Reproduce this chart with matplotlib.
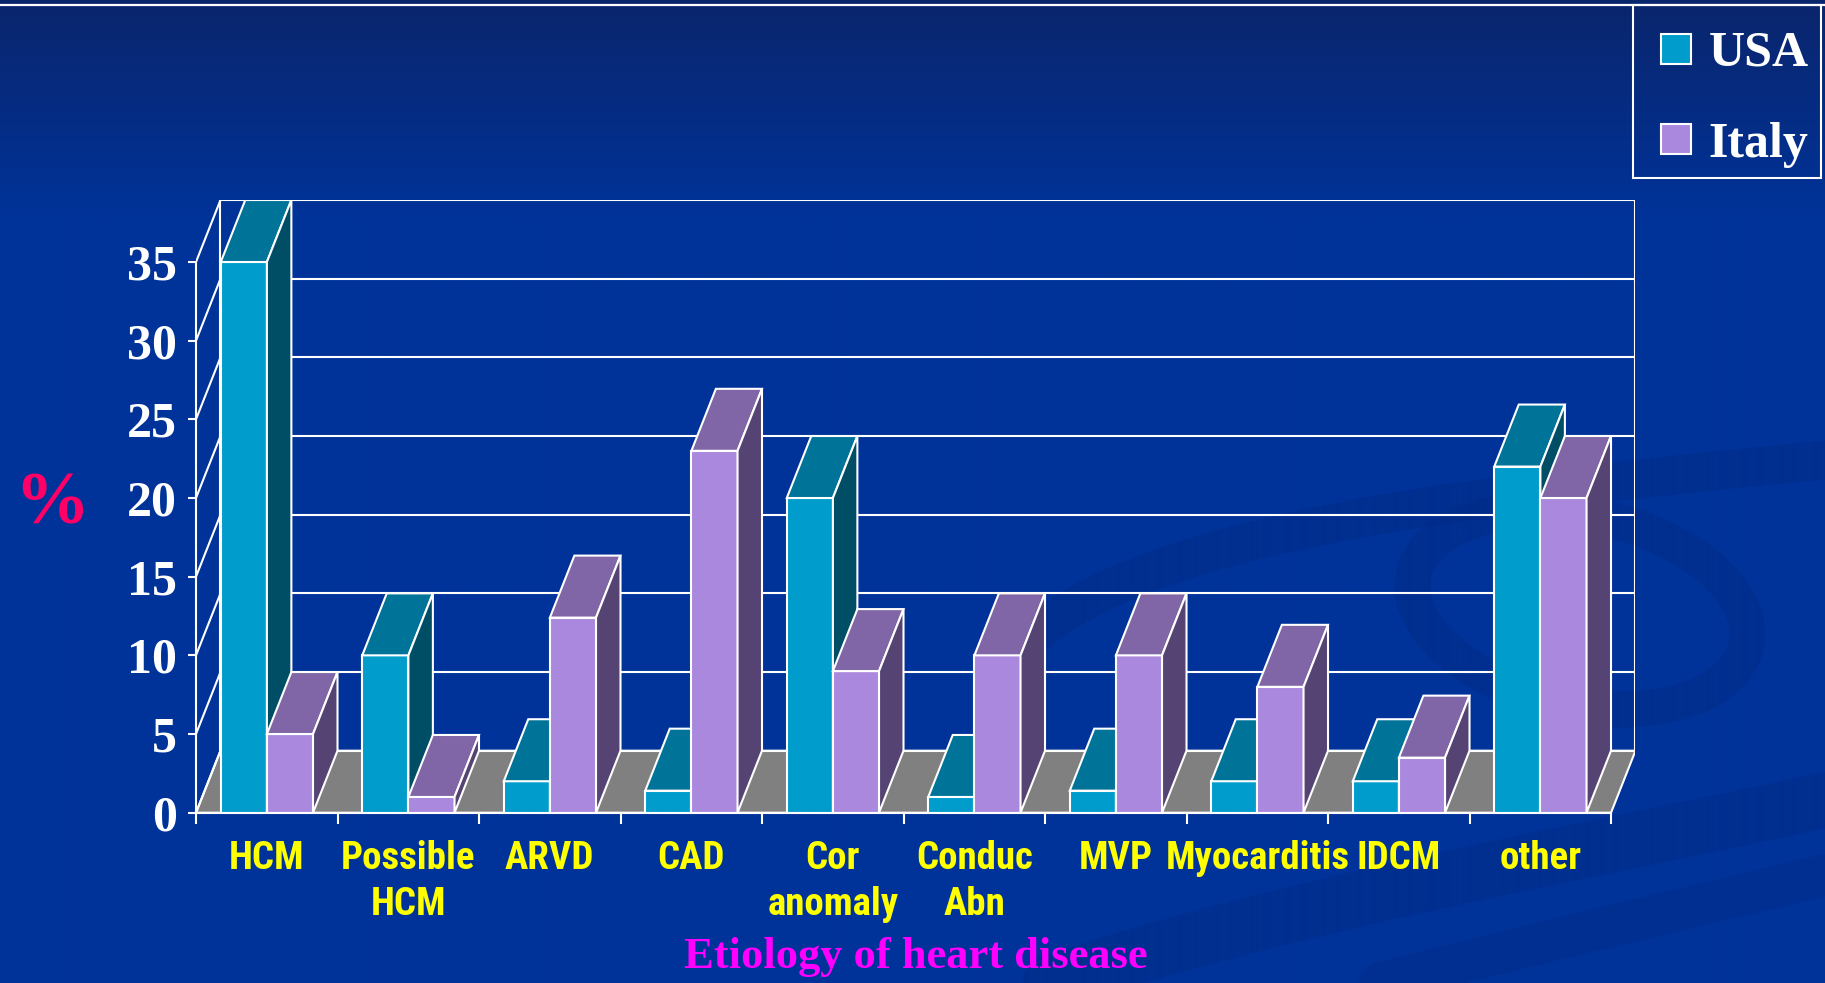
import numpy as np
import matplotlib
matplotlib.use("Agg")
import matplotlib.pyplot as plt
from matplotlib import font_manager
from matplotlib.lines import Line2D
from matplotlib.patches import Polygon, Ellipse, PathPatch, Rectangle
from matplotlib.path import Path

# --- data -----------------------------------------------------------------
categories = ["HCM", "Possible\nHCM", "ARVD", "CAD", "Cor\nanomaly", "Conduc\nAbn",
              "MVP", "Myocarditis", "IDCM", "other"]
usa = [35, 10, 2, 1.4, 20, 1, 1.4, 2, 2, 22]
italy = [5, 1, 12.4, 23, 9, 10, 10, 8, 3.5, 20]
series_names = ["USA", "Italy"]
yticks = [0, 5, 10, 15, 20, 25, 30, 35]

# --- style ----------------------------------------------------------------
W, H = 1825, 983
BG = "#003399"
USA_C = ("#009CCC", "#007399", "#004D66")      # front, top, side
ITA_C = ("#AA88DD", "#8066A6", "#554473")
FLOOR = "#808080"
EDGE = "white"
LW = 1.5

SERIF = ["Liberation Serif", "DejaVu Serif"]


def bold_narrow():
    """First narrow sans family that ships a real bold face."""
    wanted = ["Liberation Sans Narrow", "Archivo Narrow", "Roboto Condensed",
              "Barlow Semi Condensed", "Encode Sans Semi Condensed",
              "Fira Sans Condensed", "Asap Condensed"]
    have = {}
    for f in font_manager.fontManager.ttflist:
        w = f.weight if isinstance(f.weight, int) else 700 if "bold" in str(f.weight) else 400
        if w >= 600:
            have.setdefault(f.name, True)
    for name in wanted:
        if name in have:
            return [name, "Liberation Sans"], 28
    return ["Liberation Sans", "DejaVu Sans"], 23


NARROW, LABEL_SIZE = bold_narrow()

fig = plt.figure(figsize=(W / 100, H / 100), dpi=100)

# slide background: dark gradient at the top and faint swirls
bg = fig.add_axes([0, 0, 1, 1])
bg.set_xlim(0, W)
bg.set_ylim(H, 0)
bg.axis("off")
top = np.array([0x0a, 0x25, 0x6c]) / 255
mid = np.array([0x00, 0x33, 0x99]) / 255
t = np.clip(np.linspace(0, 1, H) / 0.22, 0, 1)[:, None]
grad = (top * (1 - t) + mid * t)[:, None, :] * np.ones((1, 4, 1))
bg.imshow(grad, extent=(0, W, H, 0), aspect="auto", interpolation="bilinear")

swirl = "#00267c"
def curve(pts, lw, alpha=0.3):
    codes = [Path.MOVETO] + [Path.CURVE4] * (len(pts) - 1)
    bg.add_patch(PathPatch(Path(pts, codes), fc="none", ec=swirl, lw=lw,
                           alpha=alpha, capstyle="round"))

curve([(1010, 660), (1100, 545), (1400, 500), (1825, 460)], 28)
curve([(1050, 983), (1300, 900), (1600, 850), (1825, 800)], 40)
curve([(1380, 983), (1550, 940), (1700, 905), (1825, 875)], 30, 0.25)
bg.add_patch(Ellipse((1580, 610), 340, 190, angle=12, fc="none", ec=swirl,
                     lw=26, alpha=0.28))
bg.plot([0, W], [5, 5], color="white", lw=1.6)
# legend frame
bg.add_patch(Rectangle((1633, 5), 188, 173, fc="none", ec=EDGE, lw=LW))

# --- pseudo-3D clustered columns -----------------------------------------
n = len(categories)
ymax = 35
ddx, ddy = 0.173, 3.94          # depth offset (category units, value units)
gap, bw = 0.175, 0.326          # gap before cluster, bar width

x0_px, x1_px, y0_px, y1_px = 196, 1635.5, 812.7, 200
ax = fig.add_axes([x0_px / W, 1 - y0_px / H, (x1_px - x0_px) / W, (y0_px - y1_px) / H])
ax.set_xlim(0, n + ddx)
ax.set_ylim(0, ymax + ddy)
ax.patch.set_visible(False)

# floor
ax.add_patch(Polygon([(0, 0), (n, 0), (n + ddx, ddy), (ddx, ddy)], closed=True,
                     fc=FLOOR, ec=EDGE, lw=LW, zorder=1))
# back wall frame and gridlines
ax.add_patch(Polygon([(ddx, ddy), (n + ddx, ddy), (n + ddx, ymax + ddy), (ddx, ymax + ddy)],
                     closed=True, fc="none", ec=EDGE, lw=LW, zorder=1))
for v in yticks[1:-1]:
    ax.plot([ddx, n + ddx], [v + ddy, v + ddy], color=EDGE, lw=LW, zorder=1)
# side wall lines
for v in yticks:
    ax.plot([0, ddx], [v, v + ddy], color=EDGE, lw=LW, zorder=1)


def bar3d(x, w, v, colors, z):
    front, topc, side = colors
    ax.add_patch(Polygon([(x, 0), (x + w, 0), (x + w, v), (x, v)], closed=True,
                         fc=front, ec=EDGE, lw=LW, zorder=z))
    ax.add_patch(Polygon([(x, v), (x + w, v), (x + w + ddx, v + ddy), (x + ddx, v + ddy)],
                         closed=True, fc=topc, ec=EDGE, lw=LW, zorder=z))
    ax.add_patch(Polygon([(x + w, 0), (x + w + ddx, ddy), (x + w + ddx, v + ddy), (x + w, v)],
                         closed=True, fc=side, ec=EDGE, lw=LW, zorder=z))


z = 2
for i in range(n):
    bar3d(i + gap, bw, usa[i], USA_C, z)
    bar3d(i + gap + bw, bw, italy[i], ITA_C, z + 0.01)
    z += 0.02

# axes, ticks and labels
for s in ("top", "right"):
    ax.spines[s].set_visible(False)
for s in ("left", "bottom"):
    ax.spines[s].set_color(EDGE)
    ax.spines[s].set_linewidth(LW)
    ax.spines[s].set_zorder(3)
ax.spines["left"].set_bounds(0, ymax)
ax.spines["bottom"].set_bounds(0, n)

ax.set_yticks(yticks)
ax.set_yticklabels([str(v) for v in yticks], family=SERIF, weight="bold",
                   fontsize=36, color="white")
ax.tick_params(axis="y", colors="white", length=6, width=LW, pad=8)

ax.set_xticks(np.arange(n) + 0.5)
ax.set_xticklabels(categories, family=NARROW, weight="bold", fontsize=LABEL_SIZE,
                   color="#FFFF00", linespacing=1.3)
ax.set_xticks(np.arange(n + 1), minor=True)
ax.tick_params(axis="x", which="major", length=0, pad=20)
ax.tick_params(axis="x", which="minor", length=8, width=LW, color="white")

fig.text(52 / W, 1 - 505 / H, "%", family=SERIF, weight="bold", fontsize=54,
         color="#FF0066", ha="center", va="center")
fig.text(916 / W, 1 - 957 / H, "Etiology of heart disease", family=SERIF,
         weight="bold", fontsize=32, color="#FF00FF", ha="center", va="center")

handles = [Line2D([], [], ls="none", marker="s", ms=21, mfc=c[0], mec=EDGE, mew=LW)
           for c in (USA_C, ITA_C)]
leg = fig.legend(handles, series_names, loc="upper right",
                 bbox_to_anchor=(1824 / W, 1 - 16 / H), borderaxespad=0,
                 prop={"family": SERIF, "weight": "bold", "size": 36},
                 handlelength=1.0, handletextpad=0.15,
                 labelspacing=0.89, borderpad=0.3, frameon=False)
for txt in leg.get_texts():
    txt.set_color("white")

fig.savefig("out.png", dpi=100, facecolor=BG)
